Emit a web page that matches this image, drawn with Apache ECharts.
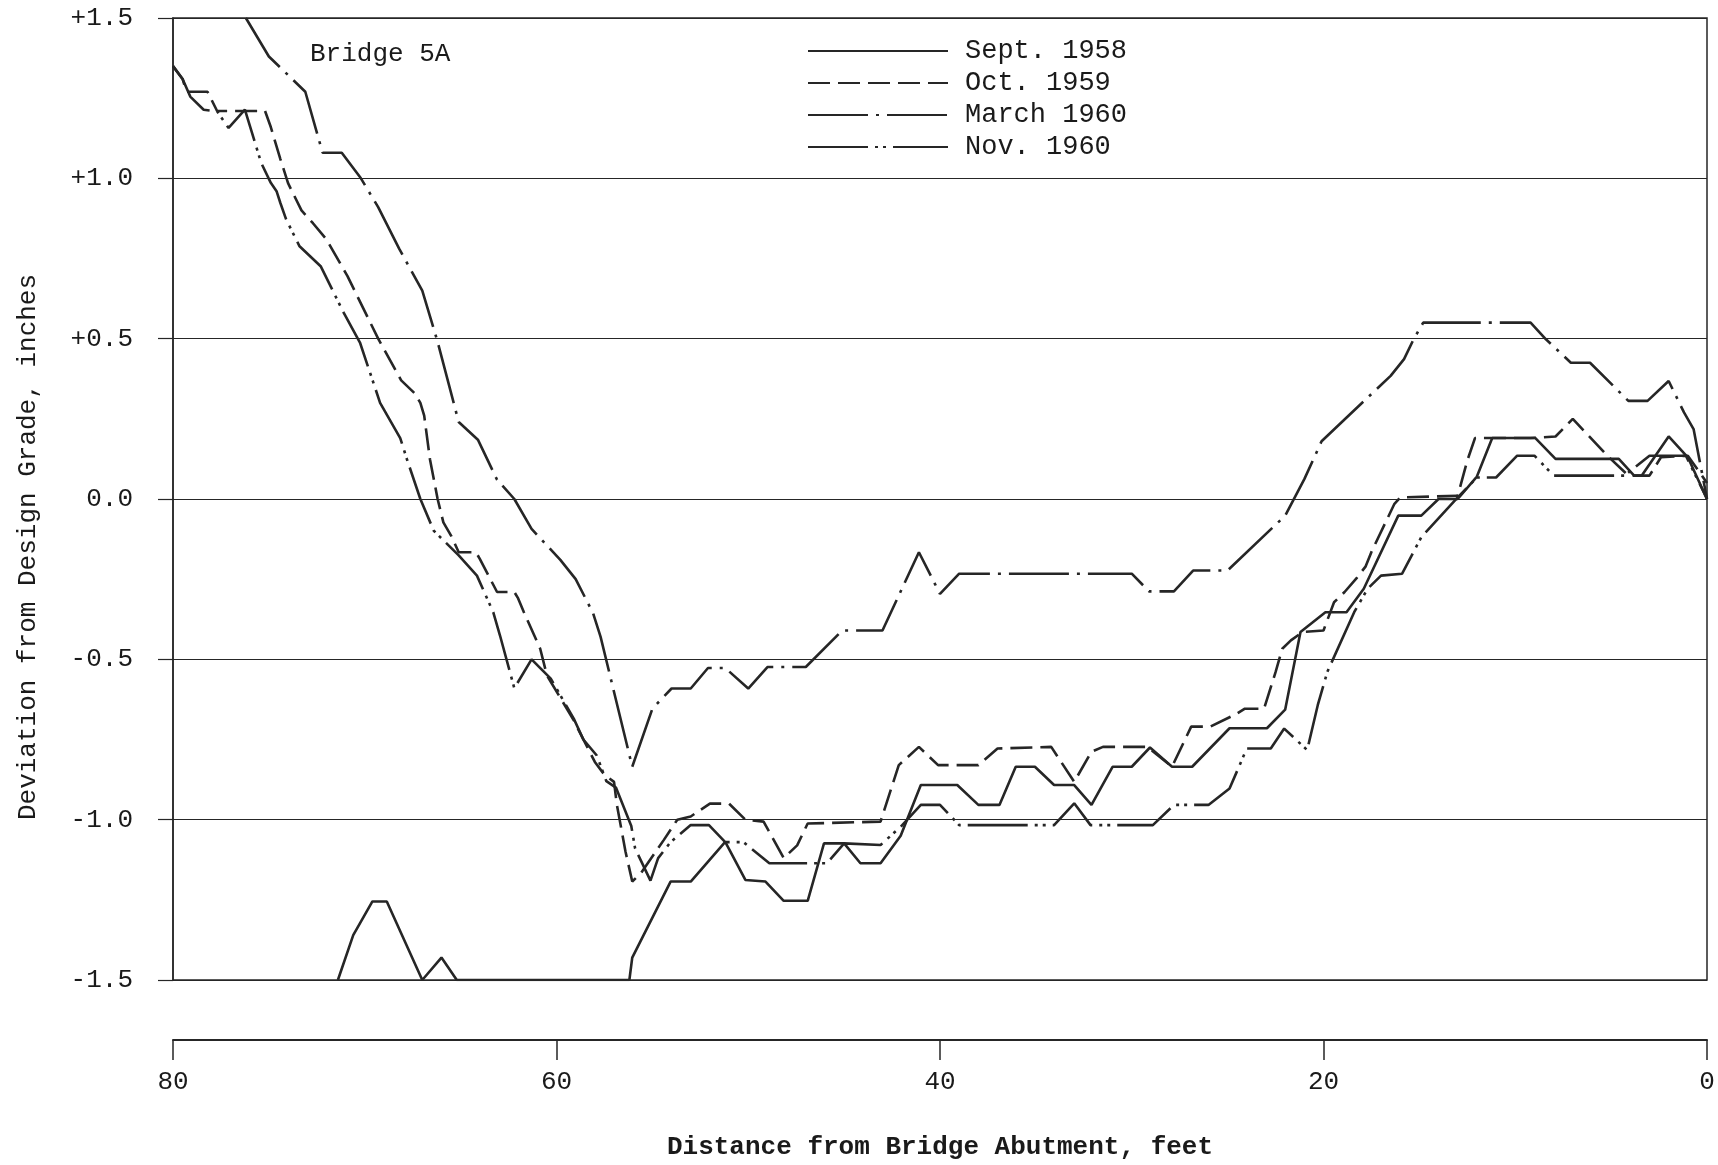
<!DOCTYPE html>
<html><head><meta charset="utf-8">
<script src="https://cdn.jsdelivr.net/npm/echarts@6/dist/echarts.min.js"></script>
<style>html,body{margin:0;padding:0;background:#fff}#c{width:1718px;height:1165px}</style>
</head><body><div id="c"></div><script>
// ---- data (x = distance from abutment, ft ; y = deviation, inches) ----
const seriesNames = ['Sept. 1958', 'Oct. 1959', 'March 1960', 'Nov. 1960'];
const xTickValues = [0, 20, 40, 60, 80];
const xTickLabels = ['0', '20', '40', '60', '80'];
const yTickValues = [-1.5, -1.0, -0.5, 0.0, 0.5, 1.0, 1.5];
const yTickLabels = ['-1.5', '-1.0', '-0.5', '0.0', '+0.5', '+1.0', '+1.5'];

const sept1958 = [[71.4,-1.5],[70.6,-1.36],[69.6,-1.255],[68.85,-1.255],[67,-1.5],[66,-1.43],[65.2,-1.5],[56.2,-1.5],[56.05,-1.43],[54.05,-1.193],[53,-1.193],[51.2,-1.069],[50.15,-1.188],[49.1,-1.193],[48.15,-1.253],[46.9,-1.253],[46.05,-1.074],[45,-1.074],[44.15,-1.136],[43.1,-1.136],[42.05,-1.05],[41,-0.892],[39.1,-0.892],[38,-0.954],[36.9,-0.954],[36.05,-0.835],[35.05,-0.835],[34.05,-0.892],[33,-0.892],[32.1,-0.954],[31,-0.835],[30,-0.835],[29.05,-0.775],[27.9,-0.835],[26.85,-0.835],[24.9,-0.715],[22.95,-0.715],[22,-0.657],[21.2,-0.415],[19.9,-0.353],[18.8,-0.353],[17.9,-0.28],[16.1,-0.052],[14.9,-0.052],[14,0.0],[13,0.0],[12,0.07],[11.2,0.19],[8.95,0.19],[7.9,0.125],[4.6,0.125],[3.8,0.073],[3.4,0.073],[2,0.195],[1,0.13],[0,0.0]];

const oct1959 = [[80,1.35],[79.5,1.31],[79.3,1.27],[78.2,1.27],[77.7,1.21],[75.2,1.21],[74.9,1.16],[74.4,1.06],[74,0.985],[73.3,0.9],[72.7,0.86],[72,0.81],[70.9,0.695],[69.3,0.5],[68.1,0.37],[67.4,0.33],[67.1,0.3],[66.9,0.26],[66.6,0.124],[66.2,0.0],[65.9,-0.073],[65.5,-0.114],[65.1,-0.166],[64.2,-0.166],[64,-0.187],[63.1,-0.29],[62.2,-0.29],[62,-0.31],[61.7,-0.353],[60.85,-0.467],[60.5,-0.55],[59.1,-0.69],[58.8,-0.726],[58,-0.82],[57.5,-0.86],[57,-0.882],[56.85,-0.954],[56.4,-1.1],[56.05,-1.193],[55.6,-1.167],[54.4,-1.063],[53.7,-1.0],[53,-0.99],[52,-0.95],[51,-0.95],[50.15,-1.0],[49.2,-1.006],[48.15,-1.12],[47.45,-1.08],[46.9,-1.012],[43.1,-1.006],[42.15,-0.83],[41.1,-0.773],[40.1,-0.83],[38,-0.83],[37,-0.778],[34.2,-0.773],[33,-0.882],[32.1,-0.788],[31.5,-0.773],[29.2,-0.773],[27.9,-0.835],[26.9,-0.71],[25.9,-0.71],[24.5,-0.669],[24.1,-0.654],[23.1,-0.654],[22.5,-0.54],[22.15,-0.467],[21.7,-0.441],[21.1,-0.415],[20,-0.41],[19.45,-0.322],[18.9,-0.29],[18.25,-0.245],[17.8,-0.21],[17.5,-0.165],[16.7,-0.065],[16.3,-0.015],[16,0.005],[13,0.01],[12.5,0.12],[12.1,0.19],[9.2,0.19],[7.9,0.195],[7,0.25],[5.2,0.135],[4.1,0.073],[3,0.073],[2.4,0.13],[1,0.135],[0,0.05]];

const march1960 = [[76.2,1.50],[75,1.38],[73.1,1.27],[72.2,1.08],[71.2,1.08],[70.2,1.0],[69.3,0.91],[68.2,0.78],[67,0.65],[66.2,0.49],[65.1,0.24],[64.1,0.185],[63.1,0.06],[62.2,0.0],[61.3,-0.093],[60.5,-0.145],[59.8,-0.19],[59,-0.25],[58.1,-0.355],[57.7,-0.43],[56.05,-0.835],[55,-0.654],[54,-0.591],[53,-0.591],[52.1,-0.527],[51.2,-0.527],[50,-0.591],[49,-0.524],[47,-0.524],[45.1,-0.41],[43,-0.41],[41.1,-0.166],[40,-0.296],[39,-0.233],[30,-0.233],[29.1,-0.288],[27.8,-0.288],[26.8,-0.223],[25,-0.223],[22,-0.052],[21,0.062],[20.1,0.18],[16.5,0.384],[15.8,0.436],[15.3,0.498],[14.8,0.55],[9.2,0.55],[8.4,0.498],[7.1,0.425],[6.1,0.425],[4.1,0.306],[3.1,0.306],[2,0.368],[1.2,0.27],[0.7,0.218],[0,0]];

const nov1960 = [[80,1.35],[79.5,1.31],[79.1,1.255],[78.4,1.214],[77.7,1.209],[77.1,1.157],[76.25,1.214],[75.4,1.048],[74.9,0.986],[74.6,0.96],[74.4,0.923],[74.1,0.872],[73.4,0.788],[72.3,0.726],[71.1,0.581],[70.25,0.488],[69.2,0.3],[68.15,0.19],[67.8,0.124],[67.1,0.0],[66.4,-0.099],[65.1,-0.176],[64.15,-0.239],[63.3,-0.353],[62.95,-0.425],[62.2,-0.59],[61.3,-0.5],[60.3,-0.56],[59.1,-0.685],[58.6,-0.75],[57.9,-0.8],[57.4,-0.88],[56.9,-0.9],[56.1,-1.02],[55.9,-1.09],[55.1,-1.19],[54.7,-1.12],[54.05,-1.07],[53,-1.017],[52.05,-1.017],[51.2,-1.07],[50.25,-1.07],[48.9,-1.136],[45.9,-1.136],[45,-1.074],[43.1,-1.079],[42.05,-1.022],[41,-0.954],[40,-0.954],[39,-1.017],[34.05,-1.017],[33,-0.949],[32.15,-1.017],[28.9,-1.017],[27.8,-0.954],[26,-0.954],[24.9,-0.903],[24,-0.778],[22.75,-0.778],[22.05,-0.716],[20.85,-0.783],[20.3,-0.643],[19.8,-0.539],[18.4,-0.353],[17.7,-0.28],[17,-0.239],[15.9,-0.233],[14.9,-0.119],[13,0.005],[12,0.067],[11,0.067],[9.9,0.135],[9,0.135],[8,0.073],[4.3,0.073],[3,0.135],[1.1,0.135],[0,0.0]];

// ---- styling ----
const FONT = 'Liberation Mono';
const INK = '#262626';
const TEXT = '#1a1a1a';
const lineStyles = [
  { type: 'solid' },
  { type: [22, 8] },
  { type: [60, 8, 3, 8] },
  { type: [60, 7, 3, 5, 3, 7] }
];
const dataSets = [sept1958, oct1959, march1960, nov1960];

const chart = echarts.init(document.getElementById('c'), null, { renderer: 'canvas' });
chart.setOption({
  backgroundColor: '#ffffff',
  animation: false,
  textStyle: { fontFamily: FONT, color: TEXT },
  grid: { left: 173, right: 11, top: 18, bottom: 183, show: true, borderColor: INK, borderWidth: 1.5, backgroundColor: 'transparent' },
  legend: {
    orient: 'vertical', left: 802, top: 32,
    itemWidth: 140, itemHeight: 14, itemGap: 4,
    data: seriesNames,
    itemStyle: { opacity: 0 },
    textStyle: { fontFamily: FONT, fontSize: 27, color: TEXT, padding: [0, 0, 0, 12], lineHeight: 28 },
    selectedMode: false
  },
  xAxis: {
    type: 'value', inverse: true, min: 0, max: 80, interval: 20,
    offset: 60,
    name: 'Distance from Bridge Abutment, feet',
    nameLocation: 'middle', nameGap: 94,
    nameTextStyle: { fontFamily: FONT, fontSize: 26, fontWeight: 'bold', color: TEXT },
    axisLine: { show: true, onZero: false, lineStyle: { color: INK, width: 2 } },
    axisTick: { show: true, length: 20, lineStyle: { color: INK, width: 1.5 } },
    axisLabel: { margin: 29, fontFamily: FONT, fontSize: 26, color: TEXT,
      formatter: v => { const i = xTickValues.indexOf(v); return i >= 0 ? xTickLabels[i] : ''; } },
    splitLine: { show: false }
  },
  yAxis: {
    type: 'value', min: -1.5, max: 1.5, interval: 0.5,
    name: 'Deviation from Design Grade, inches',
    nameLocation: 'middle', nameGap: 132, nameRotate: 90,
    nameTextStyle: { fontFamily: FONT, fontSize: 26, color: TEXT, padding: [0, 96, 0, 0] },
    axisLine: { show: true, onZero: false, lineStyle: { color: INK, width: 1.5 } },
    axisTick: { show: true, length: 15, lineStyle: { color: INK, width: 1.2 } },
    axisLabel: { margin: 40, fontFamily: FONT, fontSize: 26, color: TEXT,
      formatter: v => { const i = yTickValues.findIndex(t => Math.abs(t - v) < 1e-6); return i >= 0 ? yTickLabels[i] : ''; } },
    splitLine: { show: true, lineStyle: { color: INK, width: 1.2 } }
  },
  graphic: [{
    type: 'text', left: 310, top: 41,
    style: { text: 'Bridge 5A', fontFamily: FONT, fontSize: 26, fill: TEXT }
  }],
  series: seriesNames.map((name, i) => ({
    name: name,
    type: 'line',
    data: dataSets[i],
    showSymbol: false,
    symbol: 'none',
    clip: true,
    color: INK,
    lineStyle: Object.assign({ color: INK, width: 2.6 }, lineStyles[i]),
    emphasis: { disabled: true }
  }))
});
</script></body></html>
